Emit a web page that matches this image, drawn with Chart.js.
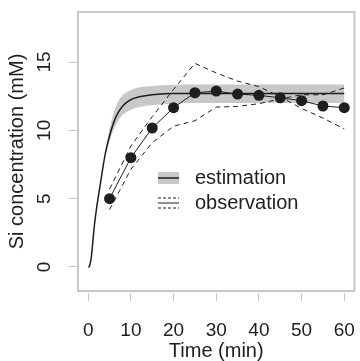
<!DOCTYPE html>
<html>
<head>
<meta charset="utf-8">
<script src="https://cdn.jsdelivr.net/npm/chart.js@4.4.0/dist/chart.umd.min.js"></script>
<style>
  html, body { margin: 0; padding: 0; background: #fff; }
  #wrap { width: 360px; height: 361px; }
</style>
</head>
<body>
<div id="wrap"><canvas id="siChart"></canvas></div>
<script>
// Observation (mean and the two dashed bounds)
const obsTime = [5, 10, 15, 20, 25, 30, 35, 40, 45, 50, 55, 60];
const obsMean = [5.0, 8.0, 10.17, 11.66, 12.75, 12.87, 12.65, 12.56, 12.38, 12.17, 11.78, 11.66];
const obsHighA = [5.7, 8.85, 11.0, 13.0, 14.9, 14.2, 13.6, 13.2, 12.45, 11.6, 10.9, 10.1];
const obsLowB = [4.2, 7.15, 9.1, 10.3, 10.7, 11.7, 11.75, 11.95, 12.3, 12.6, 12.6, 13.1];

// Estimation curve and its band
const estTime = [0, 0.25, 0.5, 0.75, 1, 1.5, 2, 2.5, 3, 3.5, 4, 5, 6, 7, 8, 9, 10, 12, 15, 20, 25, 30, 40, 50, 60];
const estValue = [0, 0.02, 0.3, 0.8, 1.6, 3.2, 4.4, 5.4, 6.4, 7.4, 8.3, 9.6, 10.6, 11.3, 11.75, 12.05, 12.25, 12.45, 12.6, 12.7, 12.7, 12.7, 12.7, 12.7, 12.7];
const bandTime = [4, 5, 6, 7, 8, 10, 12, 15, 20, 25, 60];
const bandUpper = [8.45, 10.1, 11.35, 12.1, 12.55, 12.95, 13.15, 13.25, 13.33, 13.35, 13.35];
const bandLower = [8.15, 9.2, 10.1, 10.7, 11.1, 11.5, 11.7, 11.85, 11.95, 12.0, 12.0];

// Axis ticks
const xTicks = [0, 10, 20, 30, 40, 50, 60];
const yTicks = [0, 5, 10, 15];

const FONT = '"Liberation Sans", Arial, sans-serif';
const GREY = '#c8c8c8';
const INK = '#1e1e1e';

function pairs(xs, ys) {
  return xs.map((x, i) => ({ x: x, y: ys[i] }));
}

function noPadding(axis) {
  axis.paddingLeft = 0;
  axis.paddingRight = 0;
  axis.paddingTop = 0;
  axis.paddingBottom = 0;
}

// grey frame around the plot region
const boxPlugin = {
  id: 'box',
  beforeDatasetsDraw(chart) {
    const a = chart.chartArea;
    const ctx = chart.ctx;
    ctx.save();
    ctx.strokeStyle = GREY;
    ctx.lineWidth = 2;
    ctx.strokeRect(a.left, a.top, a.right - a.left, a.bottom - a.top);
    ctx.restore();
  }
};

// R style legend inside the plot
const legendPlugin = {
  id: 'rLegend',
  afterDraw(chart) {
    const ctx = chart.ctx;
    const sx = 158, sw = 21, tx = 195;
    const y1 = 178, y2 = 203;
    ctx.save();
    ctx.fillStyle = GREY;
    ctx.fillRect(sx, y1 - 6, sw, 12);
    ctx.strokeStyle = INK;
    ctx.lineWidth = 1.5;
    ctx.beginPath(); ctx.moveTo(sx, y1); ctx.lineTo(sx + sw, y1); ctx.stroke();

    ctx.lineWidth = 1;
    ctx.beginPath(); ctx.moveTo(sx, y2); ctx.lineTo(sx + sw, y2); ctx.stroke();
    ctx.setLineDash([3, 2]);
    ctx.beginPath(); ctx.moveTo(sx, y2 - 5); ctx.lineTo(sx + sw, y2 - 5); ctx.stroke();
    ctx.beginPath(); ctx.moveTo(sx, y2 + 5); ctx.lineTo(sx + sw, y2 + 5); ctx.stroke();
    ctx.setLineDash([]);

    ctx.fillStyle = INK;
    ctx.font = '20px ' + FONT;
    ctx.textBaseline = 'middle';
    ctx.textAlign = 'left';
    ctx.fillText('estimation', tx, y1);
    ctx.fillText('observation', tx, y2);
    ctx.restore();
  }
};

new Chart(document.getElementById('siChart'), {
  type: 'line',
  data: {
    datasets: [
      {
        label: 'band low',
        data: pairs(bandTime, bandLower),
        borderWidth: 0,
        pointRadius: 0,
        cubicInterpolationMode: 'monotone',
        fill: false,
        order: 5
      },
      {
        label: 'band high',
        data: pairs(bandTime, bandUpper),
        borderWidth: 0,
        pointRadius: 0,
        backgroundColor: GREY,
        cubicInterpolationMode: 'monotone',
        fill: '-1',
        order: 4
      },
      {
        label: 'estimation',
        data: pairs(estTime, estValue),
        borderColor: INK,
        borderWidth: 1.5,
        pointRadius: 0,
        cubicInterpolationMode: 'monotone',
        fill: false,
        order: 3
      },
      {
        label: 'obs A',
        data: pairs(obsTime, obsHighA),
        borderColor: INK,
        borderWidth: 1,
        borderDash: [5, 4],
        pointRadius: 0,
        fill: false,
        order: 2
      },
      {
        label: 'obs B',
        data: pairs(obsTime, obsLowB),
        borderColor: INK,
        borderWidth: 1,
        borderDash: [5, 4],
        pointRadius: 0,
        fill: false,
        order: 1
      },
      {
        label: 'observation',
        data: pairs(obsTime, obsMean),
        borderColor: INK,
        borderWidth: 1,
        pointRadius: 5.5,
        pointBackgroundColor: INK,
        pointBorderWidth: 0,
        fill: false,
        order: 0
      }
    ]
  },
  options: {
    responsive: true,
    maintainAspectRatio: false,
    animation: false,
    devicePixelRatio: 1,
    layout: { padding: { top: 12, right: 3, left: 0, bottom: 0 } },
    plugins: {
      legend: { display: false },
      tooltip: { enabled: false }
    },
    scales: {
      x: {
        type: 'linear',
        min: -2.4,
        max: 62.4,
        afterBuildTicks: axis => { axis.ticks = xTicks.map(v => ({ value: v })); },
        afterFit: axis => { axis.height = 70; noPadding(axis); },
        grid: { drawOnChartArea: false, tickLength: 10, color: GREY, lineWidth: 1 },
        border: { display: true, width: 4, color: 'rgba(0,0,0,0)' },
        ticks: {
          font: { size: 19, family: FONT },
          color: INK,
          padding: 18,
          maxRotation: 0,
          autoSkip: false
        },
        title: {
          display: true,
          text: 'Time (min)',
          color: INK,
          font: { size: 20, family: FONT, lineHeight: 1.0 },
          padding: { top: 0, bottom: 0 }
        }
      },
      y: {
        type: 'linear',
        min: -1.76,
        max: 18.66,
        afterBuildTicks: axis => { axis.ticks = yTicks.map(v => ({ value: v })); },
        afterFit: axis => { axis.width = 78; noPadding(axis); },
        grid: { drawOnChartArea: false, tickLength: 10, color: GREY, lineWidth: 1 },
        border: { display: true, width: 2, color: 'rgba(0,0,0,0)' },
        ticks: {
          font: { size: 19, family: FONT },
          color: INK,
          padding: 13,
          minRotation: 90,
          maxRotation: 90,
          crossAlign: 'center',
          autoSkip: false
        },
        title: {
          display: true,
          text: 'Si concentration (mM)',
          color: INK,
          font: { size: 20, family: FONT, lineHeight: 1.2 },
          padding: { top: 5, bottom: 0 }
        }
      }
    }
  },
  plugins: [boxPlugin, legendPlugin]
});
</script>
</body>
</html>
